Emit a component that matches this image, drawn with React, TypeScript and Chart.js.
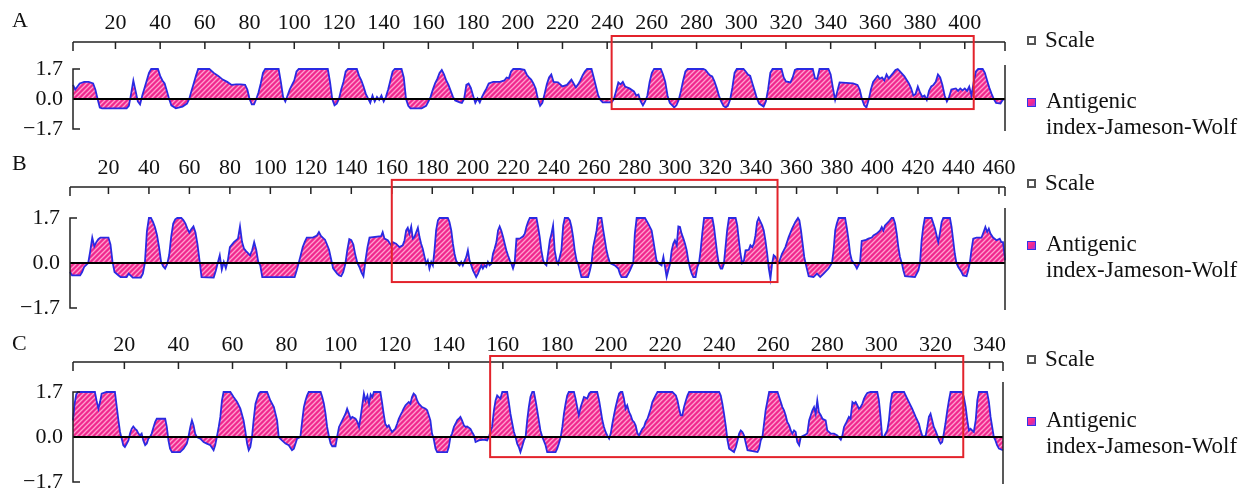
import React, { useEffect, useRef } from 'react';
import { Chart, registerables } from 'chart.js';

Chart.register(...registerables);

const SERIF = '"Liberation Serif", "Nimbus Roman", "Times New Roman", Times, "DejaVu Serif", serif';

// ---------------- Panel A (residue, Jameson-Wolf antigenic index) ----------------
const aResidue = [
  1, 2, 4, 6, 8, 10, 11, 12, 13, 14,
  25, 26, 27, 28, 29, 30, 31, 32, 33, 34,
  35, 36, 39, 40, 41, 42, 43, 44, 45, 47,
  50, 52, 53, 54, 55, 56, 57, 62, 64, 66,
  68, 70, 72, 74, 76, 78, 79, 80, 81, 82,
  83, 84, 85, 86, 87, 93, 94, 95, 96, 97,
  98, 100, 101, 102, 115, 116, 117, 118, 119, 120,
  121, 122, 123, 124, 128, 129, 130, 131, 132, 133,
  134, 135, 136, 137, 138, 139, 140, 141, 142, 143,
  144, 145, 148, 149, 150, 151, 152, 157, 159, 160,
  161, 162, 163, 164, 165, 166, 167, 168, 169, 170,
  171, 172, 174, 175, 176, 177, 178, 179, 180, 181,
  182, 183, 184, 185, 186, 187, 189, 192, 194, 195,
  196, 197, 198, 201, 203, 204, 205, 206, 207, 208,
  209, 210, 211, 212, 213, 214, 215, 216, 218, 220,
  222, 224, 225, 226, 227, 228, 229, 230, 231, 233,
  234, 235, 236, 237, 238, 242, 243, 244, 245, 246,
  247, 248, 250, 252, 253, 254, 255, 256, 257, 258,
  259, 260, 261, 264, 265, 266, 267, 268, 270, 271,
  272, 273, 274, 275, 276, 283, 284, 285, 286, 287,
  288, 289, 290, 291, 292, 293, 294, 295, 296, 297,
  298, 301, 302, 303, 304, 305, 306, 307, 308, 310,
  311, 312, 313, 314, 318, 319, 320, 322, 323, 324,
  325, 332, 333, 334, 335, 339, 340, 341, 342, 343,
  344, 350, 352, 353, 354, 355, 356, 357, 358, 359,
  361, 362, 363, 364, 365, 366, 368, 369, 370, 371,
  373, 375, 376, 377, 378, 379, 380, 381, 382, 383,
  384, 385, 386, 387, 388, 389, 390, 391, 392, 393,
  394, 396, 397, 398, 399, 400, 401, 402, 403, 404,
  405, 406, 408, 409, 410, 411, 412, 413, 414, 416,
  417, 418,
];
const aIndex = [
  0.8, 0.54, 0.88, 0.97, 0.97, 0.88, 0.54, 0, -0.48, -0.53,
  -0.53, -0.39, 0.29, 1.05, 0.46, -0.14, -0.31, 0.2, 0.63, 1.05,
  1.48, 1.7, 1.7, 1.31, 1.05, 0.88, 0.46, 0, -0.36, -0.53,
  -0.43, -0.26, 0, 0.46, 0.88, 1.31, 1.7, 1.7, 1.48, 1.31,
  1.1, 0.97, 0.8, 0.83, 0.83, 0.8, 0.54, 0, -0.31, -0.31,
  0, 0.37, 0.88, 1.48, 1.7, 1.7, 0.97, 0.12, -0.14, 0.2,
  0.54, 1.05, 1.56, 1.7, 1.7, 0.97, 0, -0.36, -0.26, 0,
  0.54, 0.97, 1.56, 1.7, 1.7, 1.31, 1.05, 0.71, 0.29, 0.03,
  -0.22, 0.2, -0.14, 0.12, -0.05, 0.2, -0.14, 0.12, 0.54, 1.05,
  1.56, 1.7, 1.7, 1.22, 0, -0.39, -0.53, -0.53, -0.39, -0.14,
  0.12, 0.54, 0.88, 1.14, 1.48, 1.65, 1.39, 1.05, 0.8, 0.46,
  0.12, -0.08, -0.19, -0.22, 0, 0.8, 0.88, 0.63, 0.2, -0.22,
  0.03, -0.19, 0.12, 0.37, 0.6, 0.88, 0.97, 0.97, 1.05, 1.22,
  1.17, 1.56, 1.7, 1.7, 1.65, 1.39, 1.22, 1.1, 0.88, 0.6,
  0, -0.39, -0.22, 0.29, 0.83, 1.22, 1.39, 0.97, 0.94, 0.71,
  0.8, 1.1, 0.88, 0.66, 0.83, 1.05, 1.34, 1.56, 1.7, 1.7,
  1.22, 0.71, 0.2, -0.05, -0.19, -0.19, 0, 0.46, 0.94, 0.83,
  0.97, 0.71, 0.6, 0.43, 0.2, 0.26, -0.14, -0.36, -0.14, 0.2,
  0.97, 1.48, 1.7, 1.7, 1.39, 0.97, 0.2, -0.22, -0.48, -0.36,
  -0.05, 0.46, 1.05, 1.56, 1.7, 1.7, 1.65, 1.48, 1.34, 1.28,
  1.0, 0.63, 0.2, -0.14, -0.39, -0.48, -0.39, -0.05, 0.63, 1.48,
  1.7, 1.7, 1.56, 1.39, 1.31, 0.88, 0.46, 0.03, -0.26, -0.43,
  -0.14, 0.54, 1.48, 1.7, 1.7, 1.22, 1.0, 0.94, 1.22, 1.65,
  1.7, 1.7, 1.17, 1.14, 1.7, 1.7, 1.39, 0.63, -0.05, 0.46,
  0.94, 0.88, 0.8, 0.54, 0, -0.36, -0.48, -0.05, 0.54, 0.97,
  1.31, 1.14, 1.22, 1.05, 1.39, 1.17, 1.48, 1.65, 1.7, 1.56,
  1.28, 0.88, 0.6, 0.2, 0.29, 0.71, 0.37, 0.12, 0.2, -0.05,
  0.46, 0.71, 0.8, 0.97, 1.39, 1.22, 0.8, 0.2, -0.14, 0.12,
  0.54, 0.6, 0.46, 0.6, 0.49, 0.6, 0.46, 0.71, 0.2, 0.97,
  1.56, 1.7, 1.7, 1.48, 1.05, 0.63, 0.29, 0, -0.22, -0.26,
  -0.05, 0,
];

// ---------------- Panel B ----------------
const bResidue = [
  1, 2, 6, 7, 8, 10, 11, 12, 13, 14,
  15, 16, 20, 21, 22, 23, 25, 26, 29, 30,
  32, 36, 37, 38, 39, 40, 41, 42, 43, 44,
  45, 46, 47, 48, 49, 50, 51, 52, 53, 54,
  56, 57, 58, 59, 60, 61, 62, 63, 64, 65,
  66, 72, 73, 74, 75, 76, 77, 78, 79, 80,
  82, 84, 85, 86, 87, 88, 90, 91, 92, 93,
  94, 95, 96, 112, 113, 114, 115, 116, 117, 118,
  121, 123, 124, 125, 126, 127, 128, 129, 130, 131,
  133, 134, 135, 136, 137, 138, 139, 140, 141, 142,
  143, 144, 145, 146, 147, 148, 149, 154.7, 155.5, 156.4,
  158, 159.7, 160.5, 162.1, 163.8, 165.4, 166.3, 167.1, 167.9, 168.7,
  169.6, 170.4, 171.2, 172.9, 173.7, 174.5, 175.3, 176.2, 177, 177.8,
  178.6, 179.5, 180.3, 181.1, 181.9, 182.8, 183.6, 187.7, 188.5, 189.4,
  190.2, 191, 191.8, 192.7, 193.5, 194.3, 195.1, 196.8, 197.6, 198.4,
  199.3, 200.1, 200.9, 201.7, 202.6, 204.2, 205, 205.9, 206.7, 207.5,
  208.3, 209.2, 210, 210.8, 211.7, 212.5, 213.3, 214.1, 215, 215.8,
  216.6, 217.4, 218.3, 219.1, 219.9, 220.7, 221.6, 223.2, 224.9, 225.7,
  226.5, 227.3, 228.2, 231.5, 232.3, 233.1, 233.9, 234.8, 235.6, 236.4,
  237.2, 238.1, 238.9, 239.7, 240.5, 241.4, 242.2, 243.8, 244.7, 245.5,
  247.1, 248, 248.8, 249.6, 250.4, 251.3, 252.1, 252.9, 253.7, 257,
  257.9, 258.7, 259.5, 261.2, 262, 263.6, 264.5, 265.3, 266.1, 266.9,
  267.8, 270.2, 271.9, 272.7, 273.5, 276, 277.7, 279.3, 280.1, 281,
  285.1, 286.7, 288.4, 289.2, 290, 290.8, 291.7, 293.3, 294.2, 295,
  295.8, 296.6, 297.5, 298.3, 299.1, 299.9, 300.8, 301.6, 302.4, 303.2,
  304.1, 304.9, 305.7, 306.5, 307.4, 308.2, 309, 310.1, 311, 311.8,
  312.6, 313.4, 314.3, 318.4, 319.2, 320, 320.8, 321.6, 322.5, 323.3,
  324.1, 324.9, 325.7, 326.6, 329.9, 330.7, 331.5, 332.3, 333.1, 334,
  334.8, 336.4, 337.2, 338.1, 338.9, 339.7, 340.5, 341.3, 342.2, 343,
  343.8, 344.6, 345.5, 346.3, 347.1, 347.9, 348.7, 349.6, 350.4, 351.2,
  352.8, 354.5, 356.1, 357.8, 359.4, 360.7, 361.4, 362.2, 363, 363.8,
  364.7, 366, 368.4, 370.1, 371.7, 373.4, 375.8, 377.5, 378.3, 379.1,
  379.9, 380.8, 384, 384.9, 385.7, 386.5, 387.3, 389, 389.8, 390.6,
  391.4, 392.2, 393.9, 395.5, 397.2, 398, 399.6, 401.3, 402.1, 402.9,
  403.7, 405.4, 407, 407.8, 408.7, 409.5, 410.3, 411.1, 412, 412.8,
  413.6, 418.5, 420.2, 421, 421.8, 422.6, 423.4, 426.7, 428.4, 430,
  430.8, 431.7, 432.5, 435.8, 436.6, 437.4, 438.2, 439, 439.9, 441.5,
  442.3, 444, 444.8, 445.6, 446.4, 447.3, 448.9, 451.4, 452.7, 453.3,
  454.2, 455, 455.8, 457.1, 458.8, 460.4, 461.2, 462, 462.9, 463,
];
const bIndex = [
  -0.34, -0.47, -0.47, -0.34, -0.15, 0, 0.45, 0.96, 0.63, 0.79,
  0.9, 0.96, 0.96, 0.7, 0.05, -0.34, -0.47, -0.53, -0.53, -0.4,
  -0.55, -0.55, -0.4, 0, 1.2, 1.7, 1.7, 1.55, 1.35, 1.05,
  0.6, 0.05, -0.12, -0.21, -0.05, 0.3, 1.0, 1.49, 1.65, 1.7,
  1.7, 1.62, 1.5, 1.3, 1.15, 1.28, 1.38, 1.15, 0.7, 0.1,
  -0.53, -0.55, -0.3, 0, 0.29, -0.25, 0.04, -0.2, 0.1, 0.6,
  0.79, 0.92, 1.38, 0.8, 0.54, 0.45, 0.29, 0.48, 0.79, 0.5,
  0.05, -0.09, -0.53, -0.53, -0.28, 0, 0.29, 0.6, 0.8, 0.96,
  0.96, 1.04, 1.17, 1.02, 0.95, 0.88, 0.7, 0.5, 0.15, -0.2,
  -0.4, -0.47, -0.5, -0.35, -0.05, 0.48, 0.9, 0.86, 0.7, 0.3,
  0, -0.15, -0.35, -0.5, 0.1, 0.6, 0.96, 1.01, 1.17, 0.92,
  0.86, 0.67, 0.79, 0.73, 0.6, 0.67, 0.86, 1.23, 1.33, 1.11,
  1.38, 0.92, 0.98, 1.33, 0.98, 0.73, 0.54, 0.23, -0.03, 0.1,
  -0.21, 0.04, -0.09, 0.48, 1.23, 1.61, 1.7, 1.7, 1.55, 1.23,
  0.73, 0.35, 0.1, -0.03, -0.09, 0.04, -0.09, 0.23, 0.48, 0.1,
  -0.09, -0.28, -0.4, -0.53, -0.4, -0.09, -0.21, -0.09, -0.15, 0.04,
  -0.09, -0.03, 0.35, 0.54, 0.79, 1.23, 1.38, 1.23, 0.98, 0.73,
  0.48, 0.29, 0.1, -0.03, -0.21, 0, 0.92, 0.92, 1.01, 1.11,
  1.36, 1.55, 1.7, 1.7, 1.36, 0.98, 0.48, 0.1, -0.03, -0.09,
  0.35, 0.86, 1.11, 1.42, 0.48, 0.1, -0.03, 0.48, 1.42, 1.7,
  1.7, 1.61, 1.36, 0.98, 0.48, 0.1, -0.03, -0.28, -0.53, -0.53,
  -0.28, 0, 0.6, 1.23, 1.7, 1.7, 1.23, 0.86, 0.48, 0.23,
  0, -0.09, -0.21, -0.4, -0.53, -0.53, -0.28, 0, 1.11, 1.7,
  1.7, 1.49, 1.23, 0.86, 0.48, 0.1, 0, -0.09, 0.23, -0.15,
  -0.53, -0.28, -0.03, 0.48, 0.73, 0.86, 0.67, 1.38, 1.36, 1.11,
  0.92, 0.73, 0.48, 0.1, -0.21, -0.4, -0.53, -0.53, -0.15, 0,
  0.48, 1.11, 1.7, 1.7, 1.36, 0.86, 0.35, -0.03, -0.21, -0.21,
  -0.03, 0.6, 1.23, 1.7, 1.7, 1.42, 0.86, 0.35, 0, 0.1,
  0.48, 0.5, 0.67, 0.6, 0.73, 1.04, 1.55, 1.7, 1.55, 1.42,
  1.23, 0.86, 0.35, -0.21, -0.59, -0.03, 0.29, 0.23, 0.1, 0,
  0.35, 0.6, 0.98, 1.3, 1.55, 1.7, 1.61, 1.23, 0.73, 0.23,
  -0.09, -0.5, -0.53, -0.4, -0.53, -0.4, -0.21, 0, 0.48, 1.23,
  1.49, 1.7, 1.7, 1.3, 0.86, 0.35, 0.1, -0.09, -0.21, -0.09,
  0.04, 0.83, 0.86, 0.92, 0.96, 1.04, 1.11, 1.23, 1.36, 1.23,
  1.42, 1.55, 1.7, 1.7, 1.49, 1.11, 0.6, 0.23, 0, -0.28,
  -0.5, -0.53, -0.28, 0, 0.86, 1.36, 1.7, 1.7, 1.3, 0.79,
  1.11, 1.55, 1.7, 1.7, 1.36, 0.86, 0.35, 0, -0.15, -0.34,
  -0.47, -0.5, -0.28, 0, 0.48, 0.92, 0.96, 0.96, 1.23, 1.36,
  1.17, 1.3, 1.11, 0.96, 0.86, 0.92, 0.79, 0.79, 0.23, 0.1,
];

// ---------------- Panel C ----------------
const cResidue = [
  1, 1.6, 2.2, 2.8, 9.1, 9.7, 10.4, 11, 11.6, 13.4,
  16.5, 17.2, 17.8, 18.4, 19, 19.6, 20.2, 20.9, 21.5, 22.1,
  22.7, 23.3, 24, 24.6, 25.2, 25.8, 26.4, 27, 27.7, 28.3,
  28.9, 29.5, 30.1, 30.8, 31.4, 32, 35.1, 35.7, 36.3, 36.9,
  37.6, 40.6, 41.9, 43.1, 43.7, 44.4, 45, 45.6, 46.2, 46.8,
  48.1, 49.3, 50.5, 51.8, 53, 53.6, 54.2, 54.9, 55.5, 56.1,
  56.7, 59.2, 60.4, 61.7, 62.9, 64.1, 64.7, 65.4, 66, 66.6,
  67.2, 67.8, 68.5, 69.7, 70.3, 72.8, 74, 75.3, 76.5, 77.1,
  78.3, 79.6, 80.8, 82, 82.7, 83.3, 83.9, 85.1, 85.8, 86.4,
  87, 87.6, 88.2, 92.6, 93.2, 93.8, 94.4, 95, 95.7, 96.3,
  96.9, 98.1, 98.7, 99.4, 100.6, 101.8, 102.4, 103.1, 103.7, 104.3,
  105.5, 106.2, 106.8, 107.4, 108, 108.6, 109.2, 109.9, 110.5, 111.1,
  111.7, 112.3, 114.7, 115.3, 115.9, 116.5, 117.2, 117.8, 118.4, 119,
  119.6, 120.2, 120.9, 121.5, 122.1, 122.7, 123.3, 124, 125.2, 125.8,
  126.4, 127, 127.7, 128.3, 128.9, 130.1, 131.4, 132, 132.6, 133.2,
  133.8, 134.4, 135.1, 135.7, 139.4, 140, 140.6, 141.2, 141.9, 142.5,
  143.1, 143.7, 144.3, 144.9, 145.6, 146.2, 146.8, 148, 148.6, 149.3,
  149.9, 151.1, 153, 154.2, 154.8, 156, 156.7, 157.3, 157.9, 158.5,
  159.1, 159.8, 161.6, 162.2, 162.8, 163.5, 164.1, 164.7, 165.3, 165.9,
  166.5, 167.1, 167.8, 168.4, 169, 169.6, 170.2, 170.9, 171.5, 172.1,
  172.7, 173.3, 173.9, 174.6, 175.8, 176.4, 179.5, 180.1, 180.7, 181.4,
  182, 182.6, 183.2, 183.8, 184.4, 186.3, 186.9, 187.5, 188.1, 188.8,
  189.4, 190, 191.2, 191.9, 192.5, 194.9, 195.6, 196.2, 196.8, 197.4,
  198, 198.6, 199.3, 199.9, 200.5, 201.1, 201.7, 202.3, 203, 203.6,
  204.2, 204.8, 205.4, 206, 206.7, 207.3, 207.9, 208.5, 209.1, 209.8,
  210.4, 211, 211.6, 212.2, 212.8, 213.5, 214.1, 214.7, 215.3, 215.9,
  216.5, 217.2, 222.7, 224, 224.6, 225.2, 225.8, 226.4, 227, 227.7,
  228.3, 228.9, 240, 240.6, 241.2, 241.8, 242.5, 243.1, 243.7, 245.5,
  246.2, 246.8, 247.4, 248, 248.6, 249.2, 249.9, 250.5, 254.2, 254.8,
  255.4, 256, 256.6, 257.2, 257.9, 258.5, 261.6, 262.2, 262.8, 263.4,
  264, 264.6, 265.2, 265.9, 266.5, 267.1, 267.7, 268.3, 268.9, 269.6,
  270.2, 271.4, 272.6, 273.3, 273.9, 274.5, 275.1, 275.7, 276.3, 276.9,
  277.6, 278.2, 279.4, 280, 281.3, 282.5, 283.7, 285, 285.6, 286.2,
  286.8, 287.4, 288, 288.6, 289.3, 289.9, 290.5, 291.1, 291.7, 292.3,
  293, 293.6, 294.2, 294.8, 296, 298.5, 299.1, 299.7, 300.3, 300.9,
  302.2, 302.8, 303.4, 304, 304.7, 308.4, 309, 310.2, 311.4, 312.7,
  313.9, 314.5, 315.1, 315.7, 316.4, 317, 317.6, 318.2, 318.8, 319.4,
  320, 320.7, 321.3, 321.9, 322.5, 323.1, 323.7, 324.4, 325, 325.6,
  329.9, 330.5, 331.2, 331.8, 332.4, 333, 333.6, 334.2, 334.9, 335.5,
  336.1, 339.1, 339.8, 340.4, 341, 341.6, 342.2, 342.8, 343.5, 345,
];
const cIndex = [
  0.63, 1.26, 1.61, 1.7, 1.7, 1.38, 1.07, 1.32, 1.64, 1.7,
  1.7, 1.13, 0.63, 0.19, -0.06, -0.31, -0.38, -0.25, -0.13, 0.13,
  0.31, 0.4, 0.31, 0.25, 0.13, 0.06, 0.13, -0.13, -0.31, -0.25,
  -0.06, 0, 0.13, 0.38, 0.57, 0.69, 0.69, 0.38, -0.13, -0.44,
  -0.57, -0.57, -0.44, -0.25, 0, 0.38, 0.63, 0.44, 0.13, 0,
  -0.06, -0.19, -0.25, -0.31, -0.5, -0.31, 0, 0.38, 0.76, 1.38,
  1.7, 1.7, 1.51, 1.32, 1.07, 0.63, 0.25, -0.25, -0.5, -0.38,
  0, 0.63, 1.26, 1.64, 1.7, 1.7, 1.38, 1.13, 0.63, 0,
  -0.13, -0.25, -0.31, -0.5, -0.44, -0.25, -0.06, 0, 0.63, 1.13,
  1.38, 1.57, 1.7, 1.7, 1.51, 1.26, 0.88, 0.38, 0, -0.25,
  -0.35, -0.35, 0, 0.38, 0.63, 0.88, 1.07, 0.88, 0.69, 0.76,
  0.69, 0.57, 0.38, 0.76, 1.2, 1.64, 1.38, 1.57, 1.26, 1.61,
  1.51, 1.7, 1.7, 1.32, 0.88, 0.5, 0.38, 0.44, 0.31, 0.19,
  0.25, 0.31, 0.5, 0.69, 0.82, 0.94, 1.07, 1.2, 1.32, 1.26,
  1.51, 1.64, 1.57, 1.38, 1.26, 1.13, 1.07, 1.01, 0.82, 0.63,
  0.13, -0.06, -0.44, -0.57, -0.57, -0.38, 0, 0.13, 0.38, 0.5,
  0.63, 0.69, 0.76, 0.63, 0.44, 0.38, 0.4, 0.31, 0.19, 0.06,
  -0.19, -0.13, -0.1, -0.13, 0, 0.38, 1.01, 1.38, 1.57, 1.51,
  1.45, 1.7, 1.7, 1.32, 0.88, 0.5, 0.19, 0, -0.25, -0.38,
  -0.57, -0.38, -0.13, 0, 0.63, 1.13, 1.51, 1.7, 1.7, 1.38,
  1.01, 0.63, 0.25, 0, -0.31, -0.57, -0.57, -0.44, -0.25, 0,
  0.38, 0.88, 1.26, 1.57, 1.7, 1.7, 1.45, 1.13, 0.82, 1.13,
  1.32, 1.51, 1.45, 1.64, 1.7, 1.7, 1.38, 1.01, 0.63, 0.38,
  0.19, 0.06, -0.06, 0.13, 0.5, 0.82, 1.13, 1.38, 1.64, 1.7,
  1.7, 1.45, 1.07, 1.2, 0.94, 0.82, 0.63, 0.57, 0.44, 0.13,
  0.06, 0.19, 0.31, 0.38, 0.57, 0.69, 0.88, 1.07, 1.32, 1.45,
  1.57, 1.7, 1.7, 1.57, 1.38, 1.07, 0.82, 0.82, 1.13, 1.38,
  1.57, 1.7, 1.7, 1.57, 1.26, 0.88, 0.38, -0.13, -0.44, -0.57,
  -0.38, -0.13, 0.13, 0.25, 0.19, 0.06, -0.25, -0.5, -0.57, -0.44,
  -0.13, 0, 0.5, 1.01, 1.38, 1.7, 1.7, 1.51, 1.32, 1.13,
  1.01, 0.82, 0.57, 0.44, 0.25, 0.13, 0.25, 0.19, -0.19, -0.31,
  0, 0.06, 0.13, 0.63, 0.82, 1.01, 1.13, 0.88, 1.38, 0.94,
  0.82, 0.69, 0.63, 0.25, 0.13, 0.13, 0.06, -0.1, 0.06, 0.38,
  0.5, 0.63, 0.76, 0.69, 1.32, 1.26, 1.32, 1.2, 1.07, 1.13,
  1.26, 1.45, 1.57, 1.66, 1.7, 1.7, 1.38, 0.76, 0, 0,
  0.25, 0.63, 1.26, 1.64, 1.7, 1.7, 1.57, 1.32, 1.07, 0.76,
  0.5, 0.25, 0.06, 0, 0.06, 0.38, 0.76, 0.88, 0.63, 0.38,
  0.25, 0.06, -0.13, -0.25, -0.19, 0.13, 0.5, 1.01, 1.38, 1.7,
  1.7, 1.51, 1.13, 0.63, 0.25, 0.31, 0.25, 0.19, 0.63, 1.38,
  1.7, 1.7, 1.32, 0.76, 0.38, 0, -0.13, -0.31, -0.44, -0.5,
];

// ---------------- axes, ranges, highlight boxes, labels ----------------
const aXTicks = [20, 40, 60, 80, 100, 120, 140, 160, 180, 200, 220, 240, 260, 280, 300, 320, 340, 360, 380, 400];
const bXTicks = [20, 40, 60, 80, 100, 120, 140, 160, 180, 200, 220, 240, 260, 280, 300, 320, 340, 360, 380, 400, 420, 440, 460];
const cXTicks = [20, 40, 60, 80, 100, 120, 140, 160, 180, 200, 220, 240, 260, 280, 300, 320, 340];
const aRange = [1, 418];
const bRange = [1, 463];
const cRange = [1, 345];
const yTickValues = [-1.7, 0, 1.7];
const yTickLabels = ['\u22121.7', '0.0', '1.7'];
// highlighted region: residue from, residue to, index low, index high
const aHighlight = [242, 404, -0.57, 3.57];
const bHighlight = [160, 350.6, -0.72, 3.14];
const cHighlight = [155.3, 330.3, -0.76, 3.06];
const panelLetters = ['A', 'B', 'C'];
const legendScaleLabel = 'Scale';
const legendIndexLines = ['Antigenic', 'index-Jameson-Wolf'];

const panels = [
  { res: aResidue, val: aIndex, ticks: aXTicks, range: aRange, box: aHighlight },
  { res: bResidue, val: bIndex, ticks: bXTicks, range: bRange, box: bHighlight },
  { res: cResidue, val: cIndex, ticks: cXTicks, range: cRange, box: cHighlight },
];

// ---------------- layout (pixels) ----------------
const CW = 1030;
const BOTTOM_PAD = 16;
const layouts = [
  { top: 0, plotTop: 69, plotBottom: 129, left: 73, right: 1005, axisGap: 27, labelPad: 33, rightExt: 4, letterBase: 27, legendBase: 47 },
  { top: 145, plotTop: 218, plotBottom: 308, left: 70, right: 1005, axisGap: 31, labelPad: 37, rightExt: 10, letterBase: 170, legendBase: 190 },
  { top: 322, plotTop: 392, plotBottom: 482, left: 73, right: 1003, axisGap: 30, labelPad: 34, rightExt: 10, letterBase: 350, legendBase: 366 },
];

const BLUE = '#2a2ae2';

function makePattern(): any {
  const c = document.createElement('canvas');
  c.width = 5;
  c.height = 5;
  const g = c.getContext('2d');
  if (!g) return '#f0308f';
  g.fillStyle = '#f0288e';
  g.fillRect(0, 0, 5, 5);
  g.strokeStyle = '#ff9fcf';
  g.lineWidth = 1.3;
  g.beginPath();
  g.moveTo(-1, 6);
  g.lineTo(6, -1);
  g.moveTo(-1, 1);
  g.lineTo(1, -1);
  g.moveTo(4, 6);
  g.lineTo(6, 4);
  g.stroke();
  return g.createPattern(c, 'repeat') || '#f0308f';
}

function makeAxesPlugin(L: any, box: number[]) {
  return {
    id: 'panelAxes',
    afterDatasetsDraw(chart: any) {
      const { ctx, chartArea: ca, scales } = chart;
      const x = scales.x;
      const y = scales.y;
      const yTop = y.getPixelForValue(yTickValues[2]);
      const yBot = y.getPixelForValue(yTickValues[0]);
      const y0 = y.getPixelForValue(0);
      ctx.save();
      ctx.lineCap = 'butt';
      // zero line
      ctx.strokeStyle = '#000';
      ctx.lineWidth = 2;
      ctx.beginPath();
      ctx.moveTo(ca.left, y0);
      ctx.lineTo(ca.right, y0);
      ctx.stroke();
      // left bracket axis
      ctx.strokeStyle = '#222';
      ctx.lineWidth = 1.5;
      ctx.beginPath();
      ctx.moveTo(ca.left + 7, yTop);
      ctx.lineTo(ca.left, yTop);
      ctx.lineTo(ca.left, yBot);
      ctx.lineTo(ca.left + 7, yBot);
      ctx.stroke();
      // right border line
      ctx.beginPath();
      ctx.moveTo(ca.right, yTop - L.rightExt);
      ctx.lineTo(ca.right, yBot + 2);
      ctx.stroke();
      // top residue axis
      const ay = ca.top - L.axisGap;
      ctx.beginPath();
      ctx.moveTo(ca.left, ay);
      ctx.lineTo(ca.right, ay);
      x.ticks.forEach((t: any) => {
        const px = x.getPixelForValue(t.value);
        ctx.moveTo(px, ay);
        ctx.lineTo(px, ay + 7);
      });
      ctx.moveTo(ca.left, ay);
      ctx.lineTo(ca.left, ay + 9);
      ctx.moveTo(ca.right, ay);
      ctx.lineTo(ca.right, ay + 9);
      ctx.stroke();
      // highlight box
      ctx.strokeStyle = '#e3232b';
      ctx.lineWidth = 2;
      const bx0 = x.getPixelForValue(box[0]);
      const bx1 = x.getPixelForValue(box[1]);
      const by0 = y.getPixelForValue(box[3]);
      const by1 = y.getPixelForValue(box[2]);
      ctx.strokeRect(bx0, by0, bx1 - bx0, by1 - by0);
      ctx.restore();
    },
  };
}

export default function App() {
  const r0 = useRef<HTMLCanvasElement>(null);
  const r1 = useRef<HTMLCanvasElement>(null);
  const r2 = useRef<HTMLCanvasElement>(null);
  const refs = [r0, r1, r2];

  useEffect(() => {
    const pattern = makePattern();
    const charts = panels.map((p, i) => {
      const L = layouts[i];
      const canvas = refs[i].current as HTMLCanvasElement;
      const points = p.res.map((r, k) => ({ x: r, y: p.val[k] }));
      return new Chart(canvas, {
        type: 'line',
        data: {
          datasets: [
            {
              data: points,
              borderColor: BLUE,
              borderWidth: 1.8,
              backgroundColor: pattern,
              fill: 'origin',
              pointRadius: 0,
              pointHoverRadius: 0,
              tension: 0,
              clip: 6,
            } as any,
          ],
        },
        options: {
          responsive: false,
          animation: false,
          events: [],
          layout: { padding: { top: 0, left: 0, right: CW - L.right, bottom: BOTTOM_PAD } },
          plugins: { legend: { display: false }, tooltip: { enabled: false } },
          scales: {
            x: {
              type: 'linear',
              position: 'top',
              min: p.range[0],
              max: p.range[1],
              grid: { display: false, drawTicks: false },
              border: { display: false },
              afterBuildTicks: (s: any) => {
                s.ticks = p.ticks.map((v) => ({ value: v }));
              },
              afterFit: (s: any) => {
                s.height = L.plotTop - L.top;
                s.paddingLeft = 0;
                s.paddingRight = 0;
                s.paddingTop = 0;
                s.paddingBottom = 0;
              },
              ticks: {
                autoSkip: false,
                maxRotation: 0,
                minRotation: 0,
                padding: L.labelPad,
                color: '#111',
                font: { family: SERIF, size: 22 },
                callback: (v: any) => String(v),
              },
            },
            y: {
              type: 'linear',
              min: yTickValues[0],
              max: yTickValues[2],
              grid: { display: false, drawTicks: false },
              border: { display: false },
              afterBuildTicks: (s: any) => {
                s.ticks = yTickValues.map((v) => ({ value: v }));
              },
              afterFit: (s: any) => {
                s.width = L.left;
                s.paddingLeft = 0;
                s.paddingRight = 0;
                s.paddingTop = 0;
                s.paddingBottom = 0;
              },
              ticks: {
                padding: 10,
                color: '#111',
                font: { family: SERIF, size: 22 },
                callback: (_v: any, idx: number) => yTickLabels[idx],
              },
            },
          },
        } as any,
        plugins: [makeAxesPlugin(L, p.box)],
      });
    });
    return () => charts.forEach((c) => c.destroy());
  }, []);

  const textStyle = (base: number, size: number, left: number): React.CSSProperties => ({
    position: 'absolute',
    left,
    top: base - size * 0.8375,
    fontSize: size,
    lineHeight: `${size}px`,
    whiteSpace: 'nowrap',
    color: '#111',
    fontFamily: SERIF,
  });

  return (
    <div style={{ position: 'absolute', left: 0, top: 0, width: 1258, height: 493, overflow: 'hidden', background: '#fff' }}>
      {layouts.map((L, i) => (
        <canvas
          key={'c' + i}
          ref={refs[i]}
          width={CW}
          height={L.plotBottom + BOTTOM_PAD - L.top}
          style={{ position: 'absolute', left: 0, top: L.top, width: CW, height: L.plotBottom + BOTTOM_PAD - L.top }}
        />
      ))}
      {layouts.map((L, i) => (
        <React.Fragment key={'t' + i}>
          <div style={textStyle(L.letterBase, 22, 12)}>{panelLetters[i]}</div>
          <div
            style={{
              position: 'absolute',
              left: 1027,
              top: L.legendBase - 7 - 4.5,
              width: 9,
              height: 9,
              boxSizing: 'border-box',
              border: '2px solid #555',
              background: '#fff',
            }}
          />
          <div style={textStyle(L.legendBase, 23, 1045)}>{legendScaleLabel}</div>
          <div
            style={{
              position: 'absolute',
              left: 1027,
              top: L.legendBase + 61 - 6 - 4.5,
              width: 9,
              height: 9,
              boxSizing: 'border-box',
              border: '1.5px solid #3333e6',
              background: 'linear-gradient(135deg, #ff3aa0 0%, #f0288e 55%, #9a3cf0 100%)',
            }}
          />
          <div style={textStyle(L.legendBase + 61, 23, 1046)}>{legendIndexLines[0]}</div>
          <div style={textStyle(L.legendBase + 87, 23, 1046)}>{legendIndexLines[1]}</div>
        </React.Fragment>
      ))}
    </div>
  );
}
